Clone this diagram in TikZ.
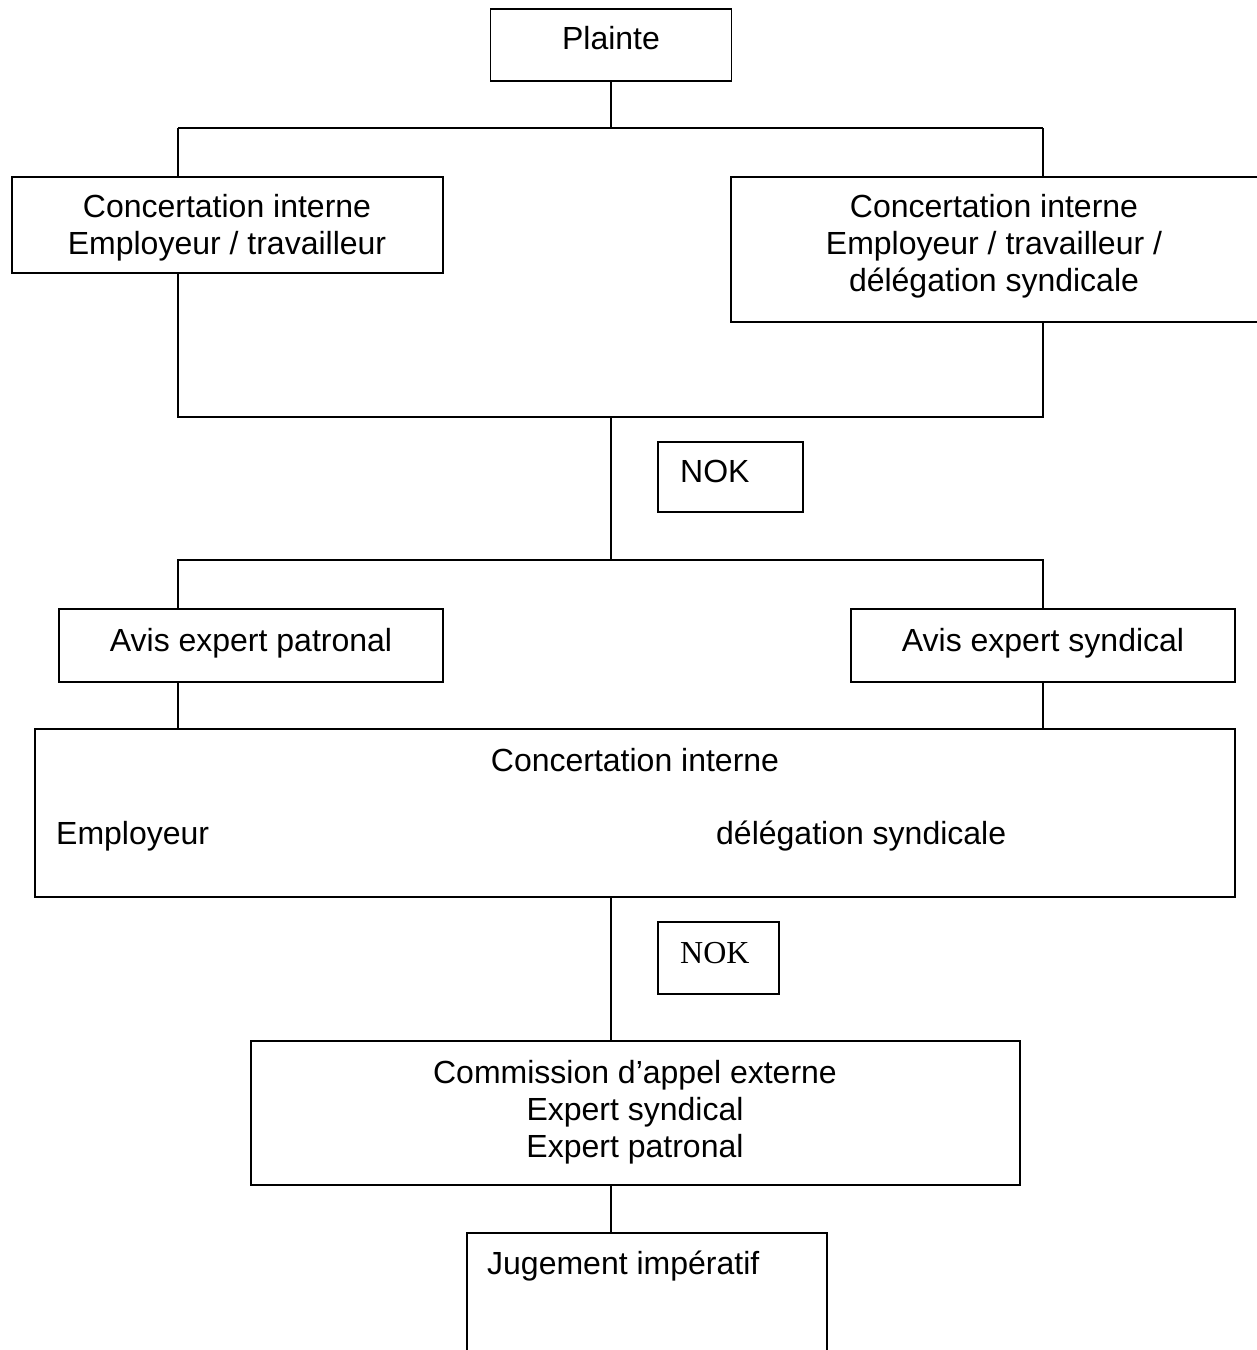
\documentclass[tikz,border=0pt]{standalone}
\usepackage{fontspec}
\setmainfont{Liberation Sans}
\newfontfamily\nokserif{Liberation Serif}
\begin{document}
\begin{tikzpicture}[x=1pt,y=-1pt,
  box/.style={draw, line width=1.8pt, inner sep=0pt, outer sep=0pt, rectangle},
  txt/.style={inner sep=0pt, font=\fontsize{32}{37}\selectfont, anchor=base},
  link/.style={line width=1.8pt}]
\clip (0,0) rectangle (1257,1350);
\fill[white] (0,0) rectangle (1257,1350);
% boxes
\node[box, minimum width=241pt, minimum height=72pt] (plainte) at (611,45) {};
\node[box, minimum width=431pt, minimum height=96pt] (conc1) at (227.5,225) {};
\node[box, minimum width=531pt, minimum height=145pt] (conc2) at (996.5,249.5) {};
\node[box, minimum width=145pt, minimum height=70pt] (nok1) at (730.5,477) {};
\node[box, minimum width=384pt, minimum height=73pt] (avisp) at (251,645.5) {};
\node[box, minimum width=384pt, minimum height=73pt] (aviss) at (1043,645.5) {};
\node[box, minimum width=1200pt, minimum height=168pt] (conc3) at (635,813) {};
\node[box, minimum width=121pt, minimum height=72pt] (nok2) at (718.5,958) {};
\node[box, minimum width=769pt, minimum height=144pt] (comm) at (635.5,1113) {};
\node[box, minimum width=360pt, minimum height=127pt] (jug) at (647,1296.5) {};
% texts
\node[txt] (tplainte) at (611,49) {Plainte};
\node[txt] (tc1a) at (227,217) {Concertation interne};
\node[txt] (tc1b) at (227,254) {Employeur / travailleur};
\node[txt] (tc2a) at (994,217) {Concertation interne};
\node[txt] (tc2b) at (994,254) {Employeur / travailleur /};
\node[txt] (tc2c) at (994,291) {délégation syndicale};
\node[txt, anchor=base west] (tnok1) at (680,482) {NOK};
\node[txt] (tavisp) at (251,651) {Avis expert patronal};
\node[txt] (taviss) at (1043,651) {Avis expert syndical};
\node[txt] (tc3a) at (635,771) {Concertation interne};
\node[txt, anchor=base west] (tc3b) at (56,844) {Employeur};
\node[txt, anchor=base west] (tc3c) at (716,844) {délégation syndicale};
\node[txt, anchor=base west, font=\fontsize{32}{37}\selectfont\nokserif] (tnok2) at (680,963) {NOK};
\node[txt] (tcomma) at (635,1083) {Commission d’appel externe};
\node[txt] (tcommb) at (635,1120) {Expert syndical};
\node[txt] (tcommc) at (635,1157) {Expert patronal};
\node[txt, anchor=base west] (tjug) at (487,1274) {Jugement impératif};
% junction coordinates
\coordinate (c1) at (611,128);
\coordinate (c1l) at (178,128);
\coordinate (c1r) at (1043,128);
\coordinate (c2) at (611,417);
\coordinate (c2l) at (178,417);
\coordinate (c2r) at (1043,417);
\coordinate (c3) at (611,560);
\coordinate (c3l) at (178,560);
\coordinate (c3r) at (1043,560);
% connectors
\draw[link] (plainte.south) -- (c1);
\draw[link] (c1l) -- (c1r);
\draw[link] (c1l) -- (c1l |- conc1.north);
\draw[link] (c1r) -- (c1r |- conc2.north);
\draw[link] (c2l |- conc1.south) -- (c2l) -- (c2r) -- (c2r |- conc2.south);
\draw[link] (c2) -- (c3);
\draw[link] (c3l |- avisp.north) -- (c3l) -- (c3r) -- (c3r |- aviss.north);
\draw[link] (c3l |- avisp.south) -- (c3l |- conc3.north);
\draw[link] (c3r |- aviss.south) -- (c3r |- conc3.north);
\draw[link] (c1 |- conc3.south) -- (c1 |- comm.north);
\draw[link] (c1 |- comm.south) -- (c1 |- jug.north);
\end{tikzpicture}
\end{document}
